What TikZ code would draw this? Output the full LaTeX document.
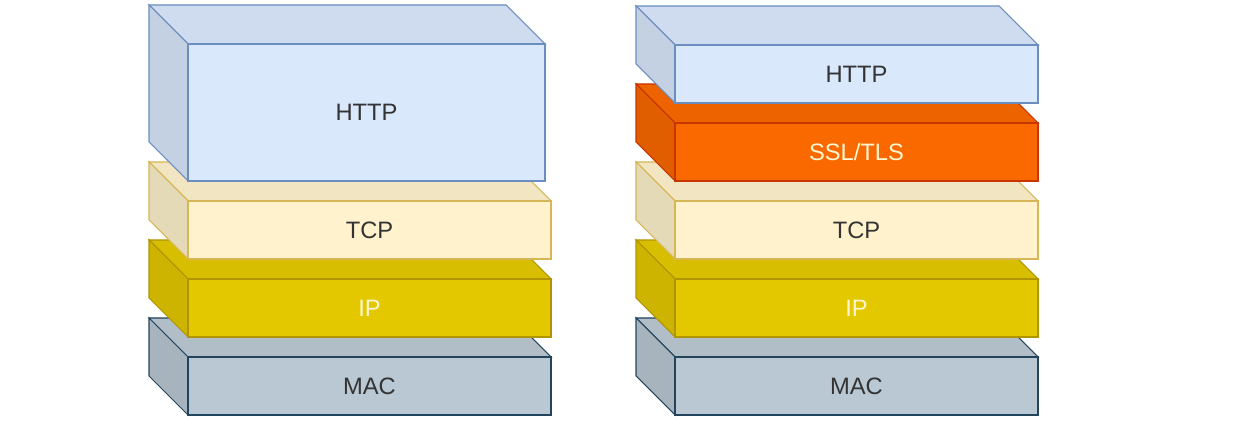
\documentclass[tikz,border=0pt]{standalone}
\usepackage{xcolor}
\usepackage{fontspec}
\setmainfont{Liberation Sans}
\usetikzlibrary{positioning,calc,backgrounds}
\definecolor{httpF}{HTML}{DAE8FC}
\definecolor{httpD}{HTML}{6C8EBF}
\definecolor{sslF}{HTML}{FA6800}
\definecolor{sslD}{HTML}{C73500}
\definecolor{tcpF}{HTML}{FFF2CC}
\definecolor{tcpD}{HTML}{D6B656}
\definecolor{ipF}{HTML}{E3C800}
\definecolor{ipD}{HTML}{B09500}
\definecolor{macF}{HTML}{BAC8D3}
\definecolor{macD}{HTML}{23445D}
\definecolor{label}{HTML}{333333}
\definecolor{lightlabel}{HTML}{FFF6D0}

\begin{document}
\begin{tikzpicture}[
    layer/.style={rectangle, draw, line width=0.6pt, inner sep=0pt, outer sep=0pt, minimum width=7.26cm, minimum height=1.16cm, font=\fontsize{13.5}{16}\selectfont, text=label},
    http/.style={layer, fill=httpF, draw=httpD},
    ssl/.style={layer, fill=sslF, draw=sslD, text=lightlabel},
    tcp/.style={layer, fill=tcpF, draw=tcpD},
    ip/.style={layer, fill=ipF, draw=ipD, text=lightlabel},
    mac/.style={layer, fill=macF, draw=macD}
]
    \useasboundingbox (0,0) rectangle (25,8.66);

    % plain HTTP stack
    \node[mac] (macL) at (7.39,0.94) {MAC};
    \node[ip, above=0.4cm of macL] (ipL) {IP};
    \node[tcp, above=0.4cm of ipL] (tcpL) {TCP};
    \node[http, minimum width=7.14cm, minimum height=2.74cm, above=0.4cm of tcpL.north west, anchor=south west] (httpL) {HTTP};

    % HTTPS stack
    \node[mac] (macR) at (17.13,0.94) {MAC};
    \node[ip, above=0.4cm of macR] (ipR) {IP};
    \node[tcp, above=0.4cm of ipR] (tcpR) {TCP};
    \node[ssl, above=0.4cm of tcpR] (sslR) {SSL/TLS};
    \node[http, above=0.4cm of sslR] (httpR) {HTTP};

    % top and side faces, bottom layer first
    \begin{scope}[on background layer]
    \foreach \n/\clr in {macL/mac, ipL/ip, tcpL/tcp, httpL/http, macR/mac, ipR/ip, tcpR/tcp, sslR/ssl, httpR/http} {
        \filldraw[fill=\clr F!95!black, draw=\clr D, line width=0.6pt] (\n.north west) -- ++(-0.78,0.78) -- ($(\n.north east)+(-0.78,0.78)$) -- (\n.north east) -- cycle;
        \filldraw[fill=\clr F!90!black, draw=\clr D, line width=0.6pt] (\n.north west) -- ++(-0.78,0.78) -- ($(\n.south west)+(-0.78,0.78)$) -- (\n.south west) -- cycle;
    }
    \end{scope}
\end{tikzpicture}
\end{document}
